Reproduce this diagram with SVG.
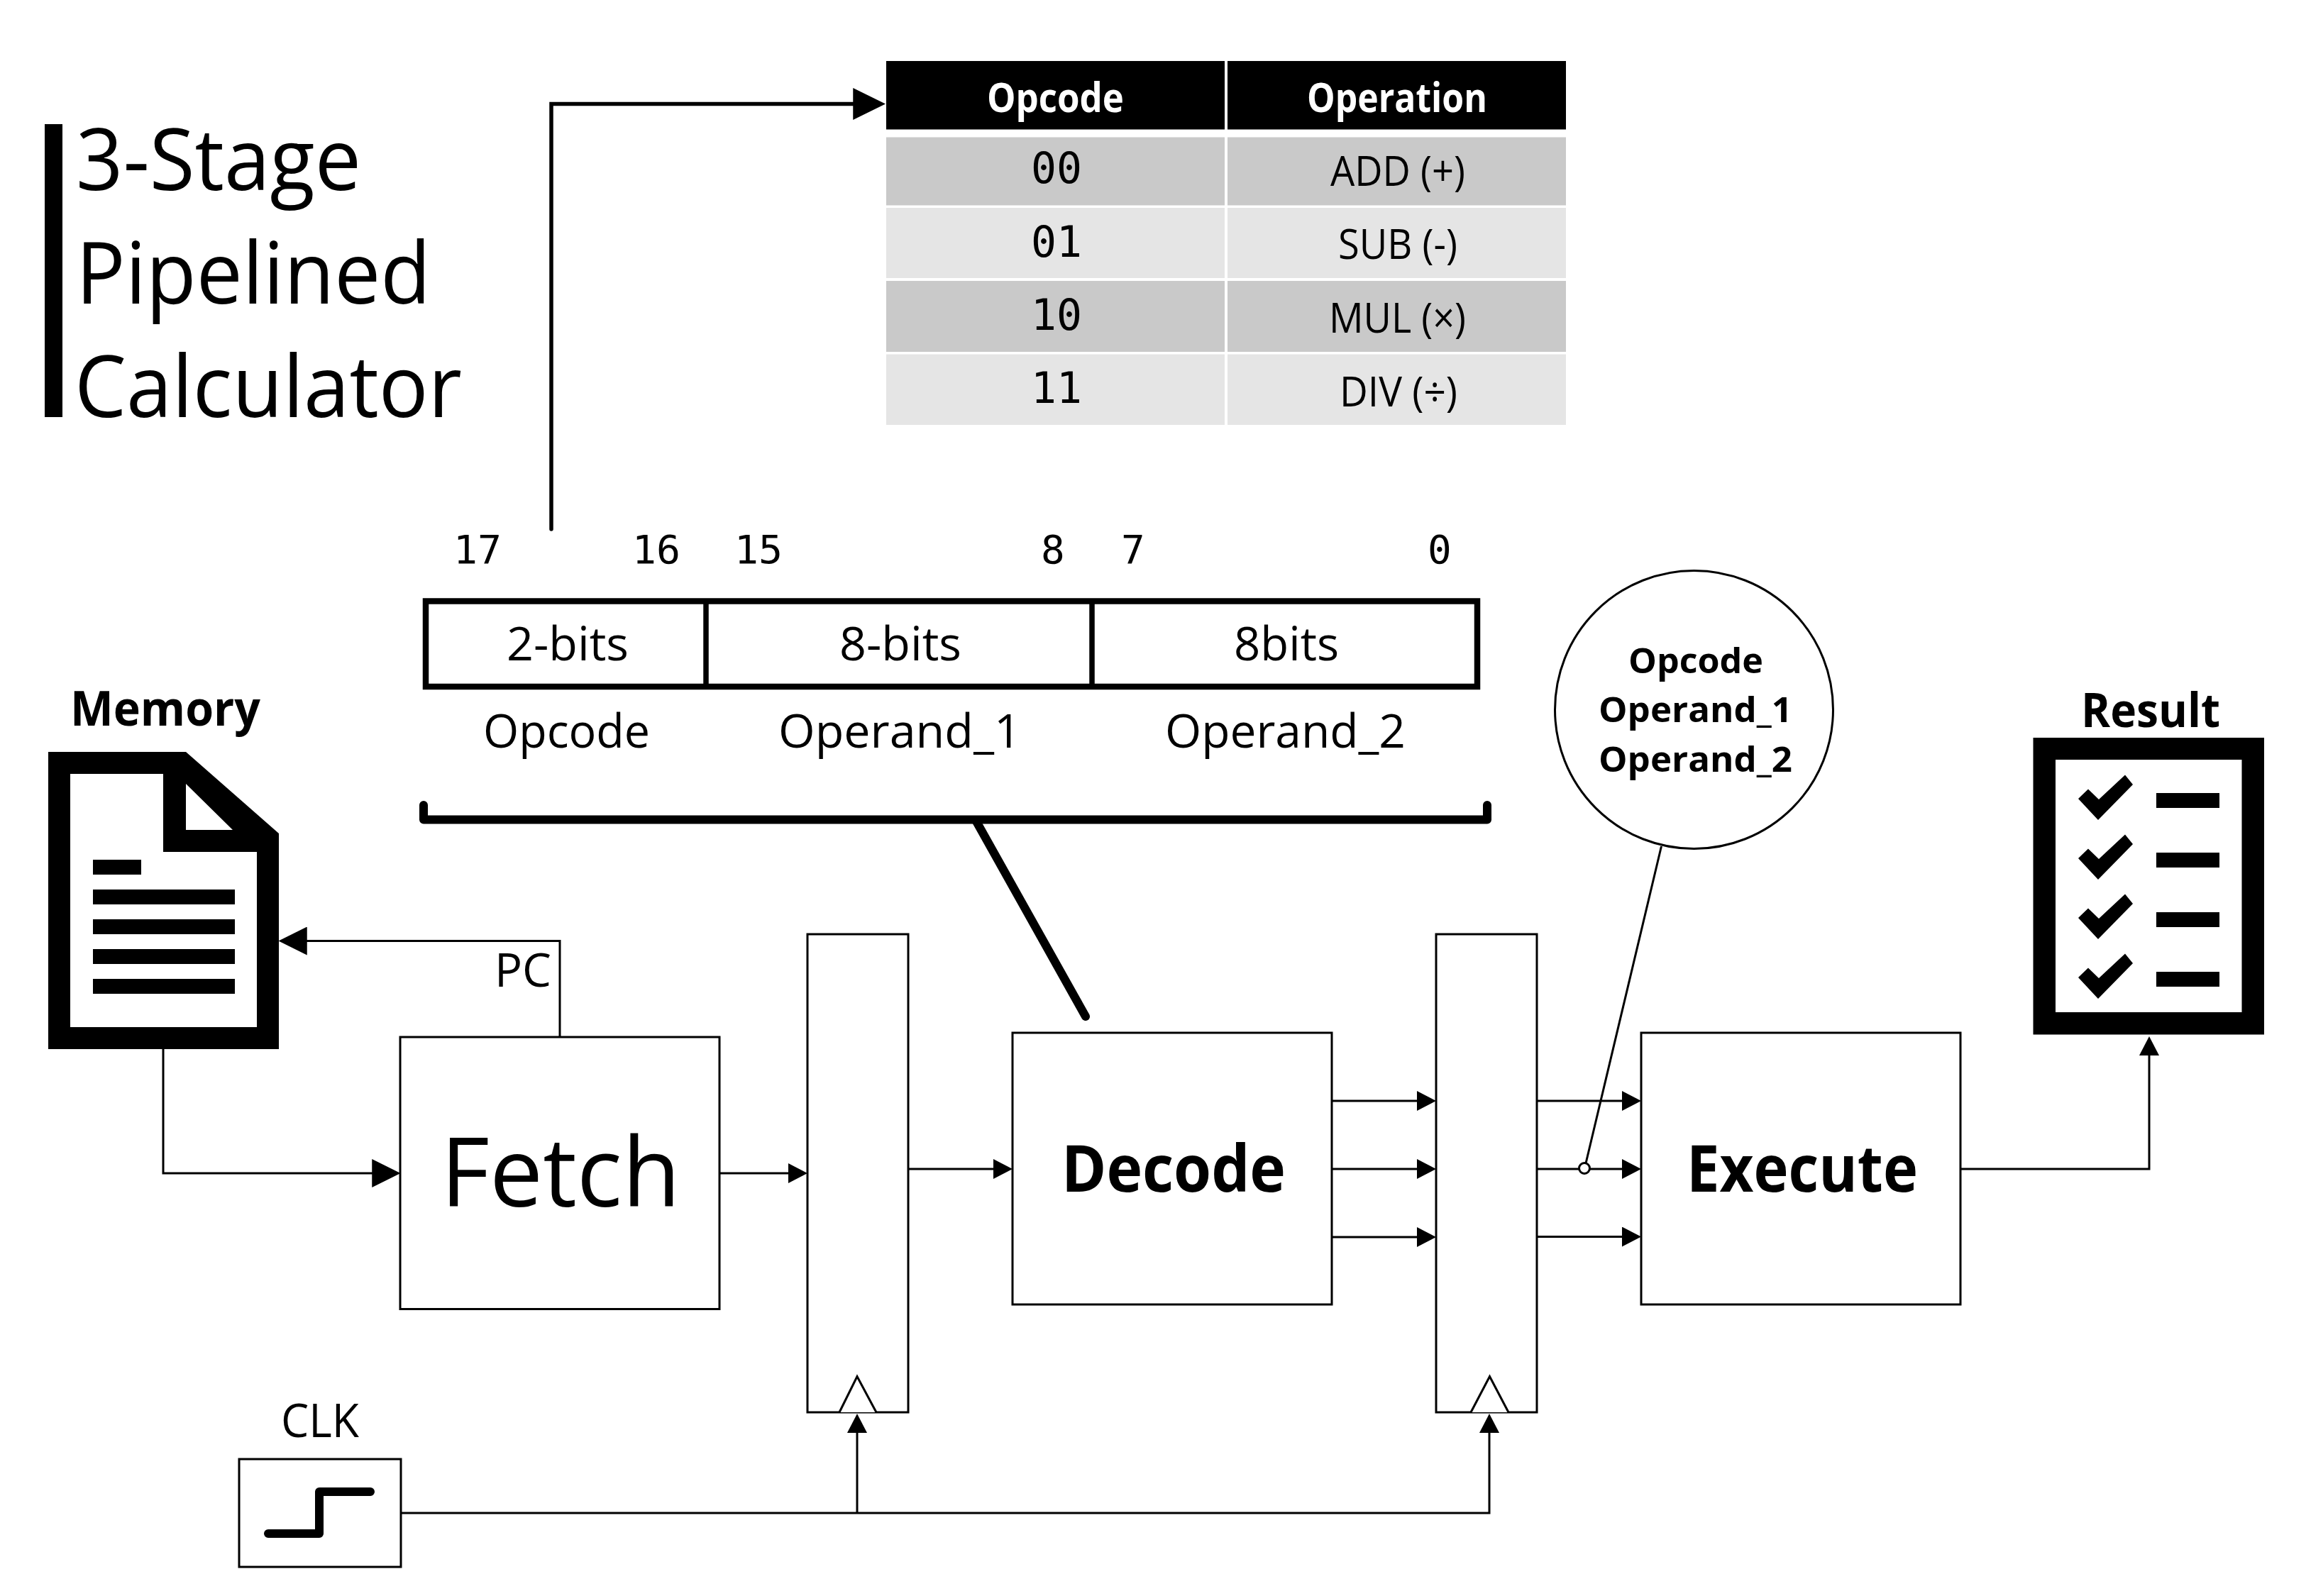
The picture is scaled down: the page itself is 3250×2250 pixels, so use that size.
<svg xmlns="http://www.w3.org/2000/svg" width="3250" height="2250" viewBox="0 0 3250 2250">
<style>
text{font-family:"Open Sans","Liberation Sans",sans-serif;fill:#000}
.b{font-weight:700}
.m{font-family:"DejaVu Sans Mono","Liberation Mono",monospace}
.box{fill:#fff;stroke:#000;stroke-width:3}
.w{fill:#fff}
.c{fill:none;stroke:#000;stroke-width:3}
.t{font-size:120px}
.s{font-size:66px}
.d{font-size:58px}
.h{font-size:58px;font-weight:700;fill:#fff}
.bit{font-size:56px}
.code{font-size:60px}
.big{font-size:92px;font-weight:700}
.ci{font-size:48px;font-weight:700}
</style>
<defs>
<marker id="a1" markerUnits="userSpaceOnUse" markerWidth="46" markerHeight="46" viewBox="0 0 45 44" refX="35" refY="22" orient="auto"><path d="M0 0L45 22L0 44Z"/></marker>
<marker id="a2" markerUnits="userSpaceOnUse" markerWidth="40" markerHeight="40" viewBox="0 0 39 39" refX="29" refY="19.5" orient="auto"><path d="M0 0L39 19.5L0 39Z"/></marker>
<marker id="a3" markerUnits="userSpaceOnUse" markerWidth="28" markerHeight="28" viewBox="0 0 27 28" refX="17" refY="14" orient="auto"><path d="M0 0L27 14L0 28Z"/></marker>
<path id="chk" d="M2995 1092.500L3006 1106L2957 1156L2929 1126L2943 1112.600L2958 1127Z"/>
</defs>

<g id="title">
<rect x="63" y="175" width="25" height="413"/>
<text class="t" x="107" y="268" textLength="402" lengthAdjust="spacingAndGlyphs">3-Stage</text>
<text class="t" x="107" y="428" textLength="500" lengthAdjust="spacingAndGlyphs">Pipelined</text>
<text class="t" x="105" y="588" textLength="546" lengthAdjust="spacingAndGlyphs">Calculator</text>
</g>

<g id="connectors">
<path d="M777 746V146.500H1238" fill="none" stroke="#000" stroke-width="5.500" stroke-linecap="round" marker-end="url(#a1)"/>
<path class="c" d="M789 1462V1326.500H403" marker-end="url(#a2)"/>
<path class="c" d="M230 1479V1654H554" marker-end="url(#a2)"/>
<path class="c" d="M1014 1654H1128" marker-end="url(#a3)"/>
<path class="c" d="M1280 1648H1417" marker-end="url(#a3)"/>
<path class="c" d="M1877 1552H2014" marker-end="url(#a3)"/>
<path class="c" d="M1877 1648H2014" marker-end="url(#a3)"/>
<path class="c" d="M1877 1744H2014" marker-end="url(#a3)"/>
<path class="c" d="M2166 1552H2303" marker-end="url(#a3)"/>
<path class="c" d="M2166 1648H2303" marker-end="url(#a3)"/>
<path class="c" d="M2166 1743.500H2303" marker-end="url(#a3)"/>
<path class="c" d="M2763 1648H3029V1471" marker-end="url(#a3)"/>
<path class="c" d="M565 2133H2099V2003" marker-end="url(#a3)"/>
<path class="c" d="M1208 2133V2003" marker-end="url(#a3)"/>
<path d="M597 1135V1155.500H2096V1135" fill="none" stroke="#000" stroke-width="12" stroke-linecap="round" stroke-linejoin="round"/>
<path d="M1376 1158L1530 1433" fill="none" stroke="#000" stroke-width="12" stroke-linecap="round"/>
<path class="c" d="M2341.500 1193L2235 1640"/>
</g>

<g id="opcode-table">
<rect x="1249" y="86" width="477" height="96.500"/><rect x="1730" y="86" width="477" height="96.500"/>
<rect x="1249" y="193.500" width="477" height="96" fill="#c9c9c9"/><rect x="1730" y="193.500" width="477" height="96" fill="#c9c9c9"/>
<rect x="1249" y="293" width="477" height="99" fill="#e5e5e5"/><rect x="1730" y="293" width="477" height="99" fill="#e5e5e5"/>
<rect x="1249" y="396" width="477" height="100" fill="#c9c9c9"/><rect x="1730" y="396" width="477" height="100" fill="#c9c9c9"/>
<rect x="1249" y="499.500" width="477" height="99.500" fill="#e5e5e5"/><rect x="1730" y="499.500" width="477" height="99.500" fill="#e5e5e5"/>
<text class="h" x="1391" y="158" textLength="193" lengthAdjust="spacingAndGlyphs">Opcode</text>
<text class="h" x="1842" y="158" textLength="254" lengthAdjust="spacingAndGlyphs">Operation</text>
<text class="m code" x="1453" y="258" textLength="72" lengthAdjust="spacingAndGlyphs">00</text>
<text class="m code" x="1453" y="362" textLength="72" lengthAdjust="spacingAndGlyphs">01</text>
<text class="m code" x="1453" y="465" textLength="72" lengthAdjust="spacingAndGlyphs">10</text>
<text class="m code" x="1453" y="568" textLength="72" lengthAdjust="spacingAndGlyphs">11</text>
<text class="d" x="1875" y="262" textLength="190" lengthAdjust="spacingAndGlyphs">ADD (+)</text>
<text class="d" x="1886" y="364.500" textLength="168" lengthAdjust="spacingAndGlyphs">SUB (-)</text>
<text class="d" x="1873" y="469" textLength="193" lengthAdjust="spacingAndGlyphs">MUL (×)</text>
<text class="d" x="1888" y="573" textLength="166" lengthAdjust="spacingAndGlyphs">DIV (÷)</text>
</g>

<g id="bit-field">
<rect x="600" y="847.500" width="1482" height="120.500" fill="#fff" stroke="#000" stroke-width="8.500"/>
<path d="M995 848V968M1539 848V968" stroke="#000" stroke-width="7.500"/>
<text class="m bit" x="639" y="794" textLength="68" lengthAdjust="spacingAndGlyphs">17</text>
<text class="m bit" x="891" y="794" textLength="68" lengthAdjust="spacingAndGlyphs">16</text>
<text class="m bit" x="1035" y="794" textLength="68" lengthAdjust="spacingAndGlyphs">15</text>
<text class="m bit" x="1467" y="794">8</text>
<text class="m bit" x="1580" y="794">7</text>
<text class="m bit" x="2012" y="794">0</text>
<text class="s" x="714" y="931" textLength="172" lengthAdjust="spacingAndGlyphs">2-bits</text>
<text class="s" x="1183" y="931" textLength="172" lengthAdjust="spacingAndGlyphs">8-bits</text>
<text class="s" x="1739" y="931" textLength="148" lengthAdjust="spacingAndGlyphs">8bits</text>
<text class="s" x="681" y="1054" textLength="235" lengthAdjust="spacingAndGlyphs">Opcode</text>
<text class="s" x="1097" y="1054" textLength="342" lengthAdjust="spacingAndGlyphs">Operand_1</text>
<text class="s" x="1642" y="1054" textLength="339" lengthAdjust="spacingAndGlyphs">Operand_2</text>
</g>

<g id="memory">
<text x="99" y="1023" font-size="68" font-weight="700" textLength="268" lengthAdjust="spacingAndGlyphs">Memory</text>
<path fill-rule="evenodd" d="M68 1060H262L393 1175V1479H68ZM99 1091V1448H362V1201H230V1091ZM262 1105V1170H328Z"/>
<path d="M131 1212H199V1233H131ZM131 1254H331V1275H131ZM131 1296H331V1317H131ZM131 1338H331V1359H131ZM131 1380H331V1401H131Z"/>
</g>

<g id="fetch">
<rect class="box" x="564" y="1462" width="450" height="383.500"/>
<text x="621" y="1701" font-size="136" textLength="338" lengthAdjust="spacingAndGlyphs">Fetch</text>
<text class="s" x="697" y="1391" textLength="80" lengthAdjust="spacingAndGlyphs">PC</text>
</g>

<g id="register-1">
<rect class="box" x="1138" y="1317" width="142" height="674"/>
<path class="box" d="M1183 1991L1208 1940.500L1235 1991"/>
</g>

<g id="decode">
<rect class="box" x="1427" y="1456" width="450" height="383"/>
<text class="big" x="1496" y="1680" textLength="316" lengthAdjust="spacingAndGlyphs">Decode</text>
</g>

<g id="register-2">
<rect class="box" x="2024" y="1317" width="142" height="674"/>
<path class="box" d="M2073 1991L2099.500 1940.500L2126 1991"/>
</g>

<g id="execute">
<rect class="box" x="2313" y="1456" width="450" height="383"/>
<text class="big" x="2377" y="1680" textLength="326" lengthAdjust="spacingAndGlyphs">Execute</text>
</g>

<g id="tap-dot"><circle class="box" cx="2233" cy="1647" r="7.500"/></g>

<g id="instruction-bubble">
<circle class="box" cx="2387.500" cy="1000.500" r="196"/>
<text class="ci" x="2295" y="949" textLength="190" lengthAdjust="spacingAndGlyphs">Opcode</text>
<text class="ci" x="2253" y="1018" textLength="273" lengthAdjust="spacingAndGlyphs">Operand_1</text>
<text class="ci" x="2253" y="1088" textLength="273" lengthAdjust="spacingAndGlyphs">Operand_2</text>
</g>

<g id="result">
<text x="2933" y="1024.600" font-size="66" font-weight="700" textLength="196" lengthAdjust="spacingAndGlyphs">Result</text>
<path fill-rule="evenodd" d="M2865.500 1040H3191V1458.600H2865.500ZM2897 1071V1427H3159.500V1071Z"/>
<use href="#chk"/><use href="#chk" y="84"/><use href="#chk" y="168"/><use href="#chk" y="252"/>
<path d="M3039 1118H3128V1139H3039ZM3039 1202H3128V1223H3039ZM3039 1286H3128V1307H3039ZM3039 1370H3128V1391H3039Z"/>
</g>

<g id="clk">
<text class="s" x="396" y="2026" textLength="110" lengthAdjust="spacingAndGlyphs">CLK</text>
<rect class="box" x="337" y="2057" width="228" height="152"/>
<path d="M378 2162H450V2103H522" fill="none" stroke="#000" stroke-width="12" stroke-linecap="round" stroke-linejoin="round"/>
</g>
</svg>
